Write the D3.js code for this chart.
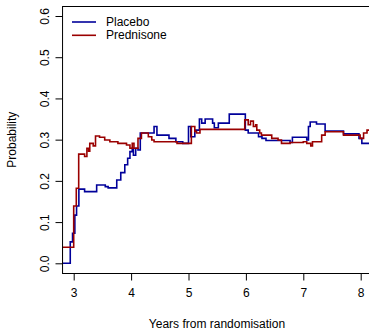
<!DOCTYPE html>
<html>
<head>
<meta charset="utf-8">
<script src="https://cdn.jsdelivr.net/npm/d3@7"></script>
<style>
  body { margin: 0; background: #fff; }
  text { font-family: "Liberation Sans", Arial, sans-serif; font-size: 12px; fill: #000; }
</style>
</head>
<body>
<div id="chart"></div>
<script>
// Step data: years from randomisation and probability
var placeboYears = [2.80, 2.94, 2.98, 3.02, 3.05, 3.09, 3.19, 3.40, 3.55, 3.60, 3.75, 3.82, 3.89, 3.94, 3.98,
    4.02, 4.04, 4.08, 4.12, 4.16, 4.40, 4.45, 4.66, 4.78, 4.90, 5.00, 5.04, 5.11, 5.19, 5.23, 5.29, 5.42, 5.45,
    5.52, 5.71, 5.99, 6.04, 6.22, 6.28, 6.35, 6.77, 6.81, 7.06, 7.09, 7.12, 7.23, 7.38, 7.70, 7.97, 8.02, 8.30];
var placeboProb = [0.000, 0.052, 0.073, 0.117, 0.139, 0.180, 0.174, 0.190, 0.186, 0.183, 0.202, 0.220, 0.239, 0.255, 0.271,
    0.279, 0.262, 0.279, 0.275, 0.316, 0.332, 0.311, 0.303, 0.295, 0.291, 0.332, 0.307, 0.323, 0.350, 0.340, 0.350, 0.340, 0.329,
    0.340, 0.362, 0.323, 0.316, 0.307, 0.303, 0.298, 0.293, 0.306, 0.299, 0.332, 0.343, 0.338, 0.321, 0.314, 0.303, 0.291, 0.291];

var predYears = [2.80, 2.80, 3.00, 3.045, 3.087, 3.19, 3.23, 3.26, 3.28, 3.34, 3.38, 3.45, 3.54, 3.63, 3.77, 3.92, 3.98,
    4.02, 4.05, 4.12, 4.18, 4.30, 4.36, 4.40, 4.80, 5.05, 5.11, 5.14, 5.20, 5.98, 6.04, 6.08, 6.13, 6.17, 6.19, 6.24,
    6.27, 6.45, 6.56, 6.62, 6.77, 7.00, 7.06, 7.13, 7.16, 7.32, 7.38, 7.70, 7.99, 8.05, 8.11, 8.30];
var predProb = [0.000, 0.039, 0.139, 0.182, 0.265, 0.259, 0.279, 0.272, 0.291, 0.285, 0.309, 0.306, 0.299, 0.295, 0.291, 0.287, 0.279,
    0.291, 0.279, 0.303, 0.316, 0.307, 0.299, 0.295, 0.291, 0.332, 0.320, 0.316, 0.325, 0.348, 0.336, 0.345, 0.332, 0.336, 0.323, 0.316,
    0.311, 0.303, 0.299, 0.291, 0.293, 0.295, 0.291, 0.285, 0.295, 0.311, 0.319, 0.311, 0.303, 0.316, 0.323, 0.323];

var xTicks = [3, 4, 5, 6, 7, 8];
var yTicks = [0, 0.1, 0.2, 0.3, 0.4, 0.5, 0.6];
var seriesNames = ["Placebo", "Prednisone"];
var seriesColors = ["#00009a", "#9a0000"];

var width = 369, height = 330;

var svg = d3.select("#chart").append("svg")
    .attr("width", width)
    .attr("height", height);

// scales pinned to the measured tick positions
var x = d3.scaleLinear().domain([3, 8]).range([73.7, 360.7]);
var y = d3.scaleLinear().domain([0, 0.6]).range([263.3, 16]);

var boxLeft = x(2.797), boxRight = x(8.35),
    boxTop = y(0.624), boxBottom = y(-0.024);

svg.append("defs").append("clipPath").attr("id", "clip")
    .append("rect")
    .attr("x", boxLeft).attr("y", boxTop)
    .attr("width", boxRight - boxLeft).attr("height", boxBottom - boxTop);

// step lines
var line = d3.line()
    .x(d => x(d[0]))
    .y(d => y(d[1]))
    .curve(d3.curveStepAfter);

var series = [
    d3.zip(placeboYears, placeboProb),
    d3.zip(predYears, predProb)
];

svg.append("g").attr("clip-path", "url(#clip)")
    .selectAll("path")
    .data(series)
    .enter()
    .append("path")
    .attr("d", line)
    .attr("fill", "none")
    .attr("stroke", (d, i) => seriesColors[i])
    .attr("stroke-width", 1.6);

// plot box
svg.append("rect")
    .attr("x", boxLeft + 0.5).attr("y", Math.round(boxTop) + 0.5)
    .attr("width", boxRight - boxLeft).attr("height", Math.round(boxBottom) - Math.round(boxTop))
    .attr("fill", "none")
    .attr("stroke", "#000")
    .attr("stroke-width", 1);

// axes
var xAxis = d3.axisBottom(x).tickValues(xTicks).tickSize(7).tickPadding(8).tickFormat(d3.format("d"));
var gx = svg.append("g")
    .attr("transform", "translate(0," + (Math.round(boxBottom) + 0.5) + ")")
    .call(xAxis);
gx.select(".domain").remove();
gx.selectAll("line").attr("stroke", "#000");
gx.selectAll("text").attr("font-size", 12).attr("font-family", "Liberation Sans, Arial, sans-serif");

var yAxis = d3.axisLeft(y).tickValues(yTicks).tickSize(7).tickFormat(d3.format(".1f"));
var gy = svg.append("g")
    .attr("transform", "translate(" + (Math.round(boxLeft) + 0.5) + ",0)")
    .call(yAxis);
gy.select(".domain").remove();
gy.selectAll("line").attr("stroke", "#000");
gy.selectAll("text")
    .attr("font-size", 12)
    .attr("font-family", "Liberation Sans, Arial, sans-serif")
    .attr("x", 0).attr("dy", 0)
    .attr("text-anchor", "middle")
    .attr("transform", "translate(-18,0) rotate(-90)")
    .attr("y", 4);

// axis titles
svg.append("text")
    .attr("x", 217)
    .attr("y", 328)
    .attr("text-anchor", "middle")
    .text("Years from randomisation");

svg.append("text")
    .attr("transform", "translate(16," + y(0.3) + ") rotate(-90)")
    .attr("text-anchor", "middle")
    .text("Probability");

// legend
var legend = svg.append("g");
seriesNames.forEach(function (name, i) {
    var ly = 22 + i * 13.3;
    legend.append("line")
        .attr("x1", 72).attr("x2", 96)
        .attr("y1", ly).attr("y2", ly)
        .attr("stroke", seriesColors[i])
        .attr("stroke-width", 1.6);
    legend.append("text")
        .attr("x", 106).attr("y", ly + 4)
        .text(name);
});
</script>
</body>
</html>
